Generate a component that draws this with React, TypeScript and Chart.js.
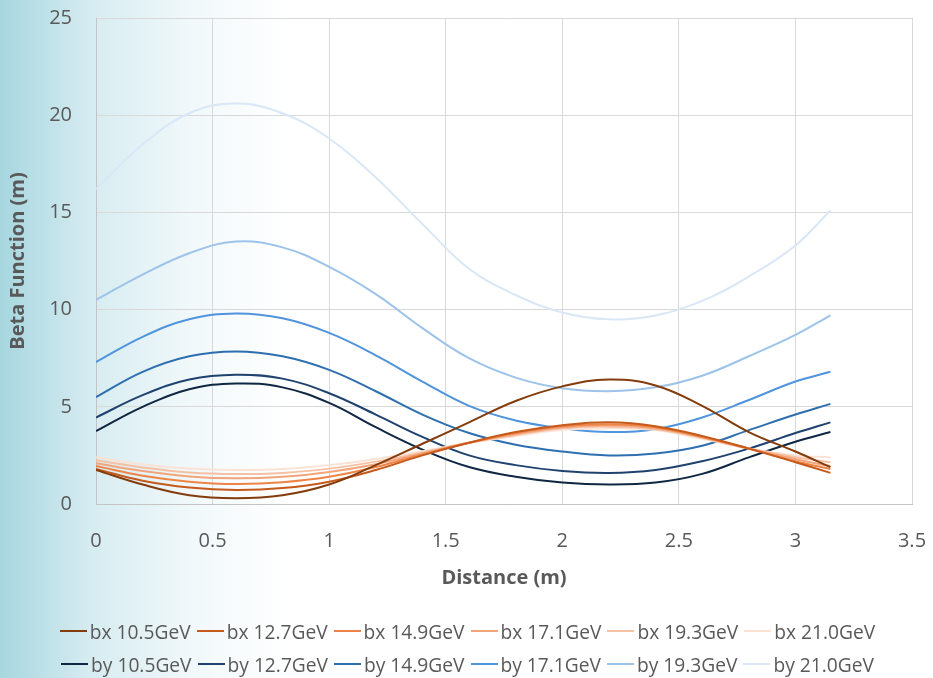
import React, { useEffect, useRef } from "react";
import { Chart, registerables } from "chart.js";

Chart.register(...registerables);

const distance = [0, 0.2, 0.4, 0.6, 0.8, 1.0, 1.2, 1.4, 1.6, 1.8, 2.0, 2.2, 2.4, 2.6, 2.8, 3.0, 3.15];

const bx105 = [1.75, 1.0, 0.45, 0.3, 0.45, 1.0, 2.0, 3.1, 4.2, 5.3, 6.05, 6.4, 6.1, 5.05, 3.7, 2.7, 1.9];
const bx127 = [1.8, 1.2, 0.85, 0.72, 0.82, 1.15, 1.75, 2.5, 3.15, 3.7, 4.05, 4.2, 4.0, 3.5, 2.85, 2.15, 1.6];
const bx149 = [1.95, 1.45, 1.15, 1.03, 1.12, 1.4, 1.9, 2.55, 3.15, 3.65, 4.0, 4.1, 3.95, 3.45, 2.85, 2.2, 1.8];
const bx171 = [2.1, 1.7, 1.42, 1.32, 1.4, 1.65, 2.05, 2.6, 3.15, 3.6, 3.95, 4.05, 3.9, 3.45, 2.85, 2.3, 1.95];
const bx193 = [2.25, 1.88, 1.62, 1.54, 1.6, 1.82, 2.18, 2.65, 3.15, 3.55, 3.9, 3.98, 3.85, 3.4, 2.85, 2.4, 2.15];
const bx210 = [2.4, 2.05, 1.82, 1.75, 1.8, 2.0, 2.32, 2.72, 3.15, 3.5, 3.82, 3.9, 3.8, 3.35, 2.85, 2.5, 2.4];

const by105 = [3.75, 5.0, 5.9, 6.2, 6.0, 5.2, 3.95, 2.8, 1.9, 1.4, 1.1, 1.0, 1.1, 1.55, 2.4, 3.2, 3.7];
const by127 = [4.45, 5.6, 6.4, 6.65, 6.45, 5.7, 4.6, 3.45, 2.5, 2.0, 1.7, 1.6, 1.75, 2.2, 2.85, 3.65, 4.2];
const by149 = [5.5, 6.8, 7.6, 7.85, 7.6, 6.9, 5.8, 4.6, 3.65, 3.05, 2.7, 2.5, 2.6, 3.0, 3.8, 4.6, 5.15];
const by171 = [7.3, 8.6, 9.5, 9.8, 9.55, 8.8, 7.65, 6.3, 5.05, 4.3, 3.9, 3.7, 3.85, 4.45, 5.35, 6.3, 6.8];
const by193 = [10.5, 11.8, 12.9, 13.5, 13.2, 12.2, 10.8, 9.05, 7.5, 6.5, 5.95, 5.8, 6.0, 6.6, 7.6, 8.7, 9.7];
const by210 = [16.2, 18.5, 20.1, 20.6, 20.1, 18.8, 16.8, 14.4, 12.1, 10.75, 9.85, 9.5, 9.7, 10.45, 11.7, 13.3, 15.1];

const seriesLabels = [
  "bx 10.5GeV", "bx 12.7GeV", "bx 14.9GeV", "bx 17.1GeV", "bx 19.3GeV", "bx 21.0GeV",
  "by 10.5GeV", "by 12.7GeV", "by 14.9GeV", "by 17.1GeV", "by 19.3GeV", "by 21.0GeV",
];
const seriesValues = [bx105, bx127, bx149, bx171, bx193, bx210, by105, by127, by149, by171, by193, by210];
const seriesColors = [
  "#843c0c", "#c55a1c", "#ee8445", "#f2a47a", "#f6c0a2", "#fbe2d5",
  "#0f2742", "#1f426e", "#2e6fb0", "#4f94dc", "#9dc3ea", "#d9e7f7",
];

const yTicks = [0, 5, 10, 15, 20, 25];
const xTicks = [0, 0.5, 1, 1.5, 2, 2.5, 3, 3.5];

const FONT = "'Open Sans', 'Noto Sans', sans-serif";

export default function App() {
  const ref = useRef<HTMLCanvasElement | null>(null);

  useEffect(() => {
    if (!ref.current) return;
    const datasets = seriesLabels.map((label, i) => ({
      label,
      data: distance.map((x, j) => ({ x, y: seriesValues[i][j] })),
      borderColor: seriesColors[i],
      backgroundColor: seriesColors[i],
      borderWidth: 2,
      pointRadius: 0,
      fill: false,
      tension: 0.4,
    }));
    const chart = new Chart(ref.current, {
      type: "line",
      data: { datasets },
      options: {
        animation: false,
        responsive: false,
        maintainAspectRatio: false,
        layout: { padding: { top: 18, right: 21, left: 0, bottom: 78 } },
        plugins: {
          tooltip: { enabled: false },
          legend: { display: false },
        },
        scales: {
          x: {
            type: "linear",
            min: 0,
            max: 3.5,
            afterBuildTicks: (s: any) => { s.ticks = xTicks.map((v) => ({ value: v })); },
            afterFit: (s: any) => { s.height = 96; },
            grid: { color: "#d9d9d9", drawTicks: true, tickLength: 23, tickColor: "rgba(0,0,0,0)", lineWidth: 1 },
            border: { color: "#c4c4c4" },
            ticks: {
              padding: 2,
              color: "#595959",
              font: { family: FONT, size: 20 },
              callback: (v: any) => String(v),
            },
            title: {
              display: true,
              text: "Distance (m)",
              color: "#595959",
              padding: { top: 0, bottom: 10 },
              font: { family: FONT, size: 20, weight: "bold" },
            },
          },
          y: {
            type: "linear",
            min: 0,
            max: 25,
            afterBuildTicks: (s: any) => { s.ticks = yTicks.map((v) => ({ value: v })); },
            afterFit: (s: any) => { s.width = 96; },
            grid: { color: "#d9d9d9", drawTicks: true, tickLength: 22, tickColor: "rgba(0,0,0,0)", lineWidth: 1 },
            border: { color: "#c4c4c4" },
            ticks: {
              padding: 2,
              color: "#595959",
              font: { family: FONT, size: 20 },
            },
            title: {
              display: true,
              text: "Beta Function (m)",
              color: "#595959",
              padding: { top: 6, bottom: 0 },
              font: { family: FONT, size: 20, weight: "bold" },
            },
          },
        },
      },
    });
    return () => chart.destroy();
  }, []);

  const rows = [seriesLabels.slice(0, 6), seriesLabels.slice(6, 12)];

  return (
    <div
      style={{
        position: "fixed",
        left: 0,
        top: 0,
        width: 933,
        height: 678,
        background: "linear-gradient(to right, #a7d6df 0px, #d6ecf1 90px, #f1f8fa 190px, #ffffff 290px)",
      }}
    >
      <canvas ref={ref} width={933} height={678} style={{ display: "block", position: "absolute", left: 0, top: 0 }} />
      {rows.map((row, r) => (
        <div
          key={r}
          style={{
            position: "absolute",
            left: 4,
            width: 933,
            top: r === 0 ? 617 : 650,
            height: 28,
            display: "flex",
            justifyContent: "center",
            alignItems: "center",
            fontFamily: FONT,
            fontSize: 19.2,
            color: "#595959",
            whiteSpace: "nowrap",
          }}
        >
          {row.map((label) => {
            const idx = seriesLabels.indexOf(label);
            return (
              <div key={label} style={{ display: "flex", alignItems: "center", marginRight: 6 }}>
                <span
                  style={{
                    display: "inline-block",
                    width: 27,
                    height: 2.5,
                    background: seriesColors[idx],
                    marginRight: 3,
                  }}
                />
                <span>{label}</span>
              </div>
            );
          })}
        </div>
      ))}
    </div>
  );
}
